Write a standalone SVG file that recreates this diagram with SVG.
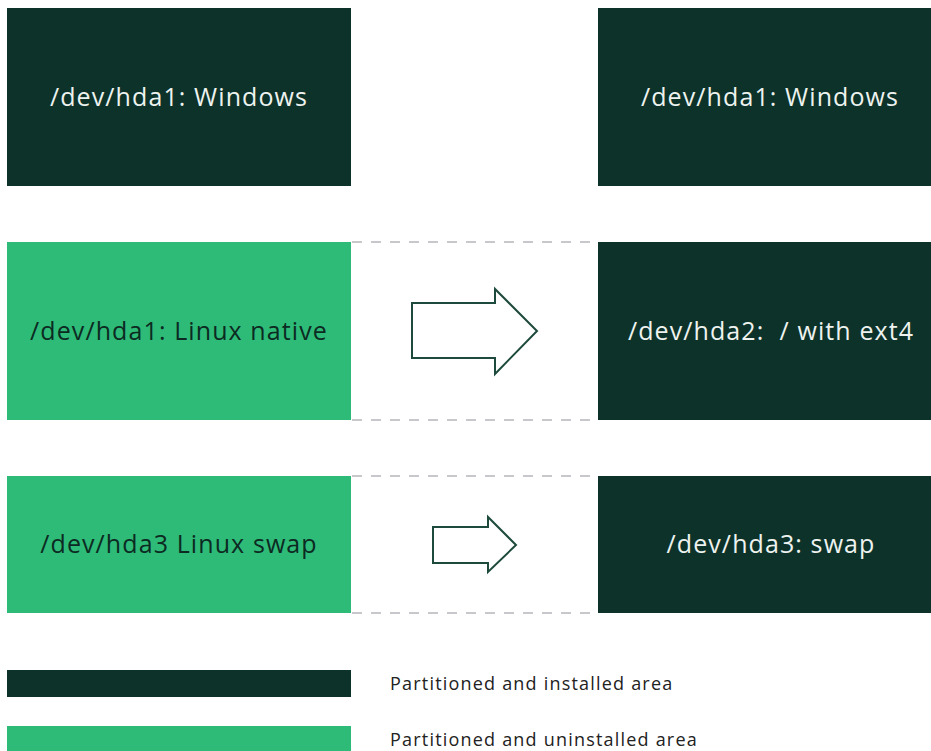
<svg xmlns="http://www.w3.org/2000/svg" width="931" height="751" viewBox="0 0 931 751">
<style>
.dark{fill:#0c3229}
.green{fill:#2ebb78}
.lt{font-family:"Open Sans","Noto Sans","Liberation Sans",sans-serif;font-size:25px;letter-spacing:1.1px;fill:#eef3ef;text-anchor:middle}
.dt{font-family:"Open Sans","Noto Sans","Liberation Sans",sans-serif;font-size:25px;letter-spacing:1.1px;fill:#0c2a22;text-anchor:middle}
.leg{font-family:"Open Sans","Noto Sans","Liberation Sans",sans-serif;font-size:18px;letter-spacing:1.2px;fill:#222}
.dash{stroke:#c8c8cc;stroke-width:2;stroke-dasharray:10 9;fill:none}
.arrow{fill:#fff;stroke:#1d4a3c;stroke-width:2}
</style>
<rect width="931" height="751" fill="#fff"/>
<g id="connectors">
<line class="dash" x1="352" y1="242" x2="598" y2="242"/>
<line class="dash" x1="352" y1="420" x2="598" y2="420"/>
<line class="dash" x1="352" y1="476" x2="598" y2="476"/>
<line class="dash" x1="352" y1="613" x2="598" y2="613"/>
<polygon class="arrow" points="412,303 495,303 495,289 537,331 495,374 495,358 412,358"/>
<polygon class="arrow" points="433,527 488,527 488,517 516,545 488,572 488,563 433,563"/>
</g>
<g id="left-windows">
<rect class="dark" x="7" y="8" width="344" height="178"/>
<text class="lt" x="179" y="106">/dev/hda1: Windows</text>
</g>
<g id="right-windows">
<rect class="dark" x="598" y="8" width="344" height="178"/>
<text class="lt" x="770" y="106">/dev/hda1: Windows</text>
</g>
<g id="left-linux-native">
<rect class="green" x="7" y="242" width="344" height="178"/>
<text class="dt" x="179" y="340">/dev/hda1: Linux native</text>
</g>
<g id="right-ext4">
<rect class="dark" x="598" y="242" width="344" height="178"/>
<text class="lt" x="771" y="340" xml:space="preserve">/dev/hda2:  / with ext4</text>
</g>
<g id="left-swap">
<rect class="green" x="7" y="476" width="344" height="137"/>
<text class="dt" x="179" y="553">/dev/hda3 Linux swap</text>
</g>
<g id="right-swap">
<rect class="dark" x="598" y="476" width="344" height="137"/>
<text class="lt" x="771" y="553">/dev/hda3: swap</text>
</g>
<g id="legend-installed">
<rect class="dark" x="7" y="670" width="344" height="27"/>
<text class="leg" x="390" y="690">Partitioned and installed area</text>
</g>
<g id="legend-uninstalled">
<rect class="green" x="7" y="726" width="344" height="30"/>
<text class="leg" x="390" y="746">Partitioned and uninstalled area</text>
</g>
</svg>
